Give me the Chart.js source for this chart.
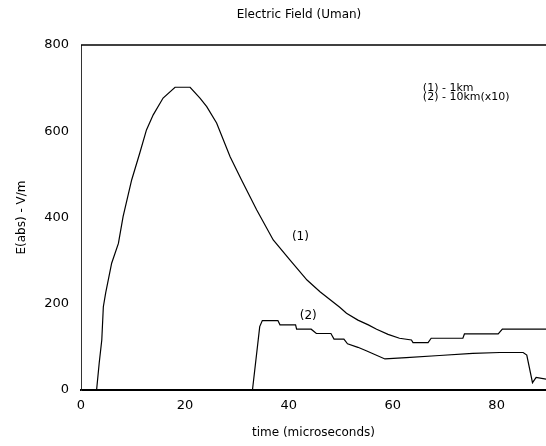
<!DOCTYPE html>
<html>
<head>
<meta charset="utf-8">
<script src="https://cdn.jsdelivr.net/npm/chart.js@4/dist/chart.umd.min.js"></script>
<style>
  html, body { margin: 0; padding: 0; background: #fff; }
  #wrap { width: 546px; height: 446px; position: relative; }
</style>
</head>
<body>
<div id="wrap"><canvas id="fieldChart"></canvas></div>
<script>
// curve (1): 1 km
const timeNear = [0, 3.0, 3.5, 4.0, 4.3, 4.75, 5.9, 7.2, 8.1, 9.75, 11.3, 12.6, 13.9, 15.8, 18.1, 21.0,
  22.9, 24.2, 26.1, 28.7, 30.9, 33.8, 37.0, 40.2, 43.5, 46.0, 49.8, 51.1, 53.3, 55.3, 56.9, 59.1,
  61.3, 63.6, 63.9, 66.8, 67.4, 73.5, 73.8, 80.3, 81.1, 89.5]
const fieldNear = [0, 0, 62, 116, 193, 225, 294, 340, 402, 487, 549, 603, 638, 677, 702, 702,
  677, 657, 619, 541, 487, 418, 348, 302, 255, 228, 192, 178, 162, 151, 141, 129,
  120, 116, 110, 110, 120, 120, 130, 130, 141, 141]

// curve (2): 10 km, scaled x10
const timeFar = [0, 33.0, 34.4, 34.9, 37.9, 38.3, 41.3, 41.5, 44.3, 45.3, 48.1, 48.7, 50.6, 51.3,
  53.3, 54.9, 58.5, 62.6, 69.0, 75.4, 80.6, 85.1, 85.8, 86.9, 87.6, 89.5]
const fieldFar = [0, 0, 147, 161, 161, 151, 151, 141, 141, 131, 131, 118, 118, 107,
  99, 91, 72, 75, 80, 85, 87, 87, 81, 17, 29, 25]

const xTicks = [0, 20, 40, 60, 80]
const yTicks = [0, 200, 400, 600, 800]

const toPoints = (xs, ys) => xs.map((x, i) => ({ x: x, y: ys[i] }))

const FONT = "'DejaVu Sans', sans-serif"

// text written on the plot (curve tags and key), placed in data units
const notes = [
  { text: "(1)", x: 40.6, y: 355, size: 12 },
  { text: "(2)", x: 42.1, y: 172, size: 12 },
  { text: "(1) - 1km", x: 65.8, y: 700, size: 11 },
  { text: "(2) - 10km(x10)", x: 65.8, y: 679, size: 11 }
]

const plotText = {
  id: "plotText",
  afterDraw(chart) {
    const ctx = chart.ctx
    const area = chart.chartArea
    const xs = chart.scales.x
    const ys = chart.scales.y
    ctx.save()
    // top frame line
    ctx.strokeStyle = "#000"
    ctx.lineWidth = 1.5
    ctx.beginPath()
    ctx.moveTo(area.left, area.top)
    ctx.lineTo(area.right, area.top)
    ctx.stroke()

    ctx.fillStyle = "#000"
    ctx.textBaseline = "middle"
    ctx.textAlign = "center"
    ctx.font = "12px " + FONT
    ctx.fillText("Electric Field (Uman)", 299, 15)

    ctx.textAlign = "left"
    notes.forEach(n => {
      ctx.font = n.size + "px " + FONT
      ctx.fillText(n.text, xs.getPixelForValue(n.x), ys.getPixelForValue(n.y))
    })
    ctx.restore()
  }
}

new Chart(document.getElementById("fieldChart"), {
  type: "line",
  data: {
    datasets: [
      {
        label: "1km",
        data: toPoints(timeNear, fieldNear),
        borderColor: "#000",
        borderWidth: 1.2,
        pointRadius: 0,
        tension: 0,
        fill: false
      },
      {
        label: "10km(x10)",
        data: toPoints(timeFar, fieldFar),
        borderColor: "#000",
        borderWidth: 1.2,
        pointRadius: 0,
        tension: 0,
        fill: false
      }
    ]
  },
  options: {
    responsive: true,
    maintainAspectRatio: false,
    animation: false,
    layout: { padding: { top: 45, right: 0, left: 0, bottom: 0 } },
    plugins: {
      legend: { display: false },
      title: { display: false },
      tooltip: { enabled: false }
    },
    scales: {
      x: {
        type: "linear",
        min: 0,
        max: 89.5,
        afterBuildTicks: s => { s.ticks = xTicks.map(v => ({ value: v })) },
        afterFit: s => { s.height = 56 },
        grid: { display: false, drawTicks: false },
        border: { display: true, color: "#000", width: 2 },
        ticks: { color: "#000", font: { family: FONT, size: 13 }, padding: 8, maxRotation: 0 },
        title: {
          display: true,
          text: "time (microseconds)",
          color: "#000",
          font: { family: FONT, size: 12 },
          padding: { top: 0, bottom: 6 }
        }
      },
      y: {
        min: 0,
        max: 800,
        afterBuildTicks: s => { s.ticks = yTicks.map(v => ({ value: v })) },
        afterFit: s => { s.width = 81 },
        grid: { display: false, drawTicks: false },
        border: { display: true, color: "#333", width: 1 },
        ticks: { color: "#000", font: { family: FONT, size: 13 }, padding: 12 },
        title: {
          display: true,
          text: "E(abs) - V/m",
          color: "#000",
          font: { family: FONT, size: 12 },
          padding: { top: 15, bottom: 0 }
        }
      }
    }
  },
  plugins: [plotText]
})
</script>
</body>
</html>
